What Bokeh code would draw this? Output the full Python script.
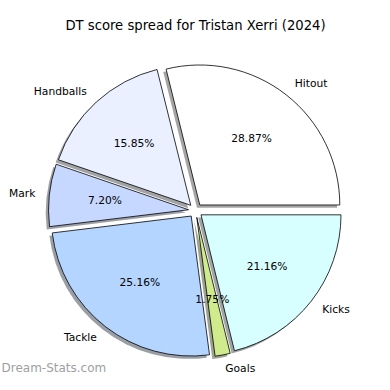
import math
from bokeh.plotting import figure
from bokeh.models import Range1d, ColumnDataSource
from bokeh.core.properties import value
from bokeh.embed import file_html
from bokeh.resources import INLINE

# ---- data ----
labels = ["Hitout", "Handballs", "Mark", "Tackle", "Goals", "Kicks"]
values = [28.87, 15.85, 7.20, 25.16, 1.75, 21.16]
colors = ["#ffffff", "#eaf0ff", "#c6d8ff", "#b4d5ff", "#d0eb8c", "#d8ffff"]
title = "DT score spread for Tristan Xerri (2024)"
watermark = "Dream-Stats.com"

explode = 0.05
radius = 1.0
scale = 140.0  # px per data unit
W = H = 374
cx_px, cy_px = 195.0, 210.0  # pie center in figure pixels

p = figure(width=W, height=H, output_backend="svg", toolbar_location=None,
           x_range=Range1d(-cx_px / scale, (W - cx_px) / scale),
           y_range=Range1d(-(H - cy_px) / scale, cy_px / scale),
           min_border=0)
p.axis.visible = False
p.grid.visible = False
p.outline_line_color = None
p.background_fill_color = "white"

total = sum(values)
starts, ends, xs, ys, mids = [], [], [], [], []
acc = 0.0
for v in values:
    a0 = 2 * math.pi * acc / total
    acc += v
    a1 = 2 * math.pi * acc / total
    m = (a0 + a1) / 2
    starts.append(a0); ends.append(a1); mids.append(m)
    xs.append(explode * math.cos(m)); ys.append(explode * math.sin(m))

def shade(c):
    r, g, b = int(c[1:3], 16), int(c[3:5], 16), int(c[5:7], 16)
    return "#%02x%02x%02x" % (int(r * 0.3), int(g * 0.3), int(b * 0.3))

src = ColumnDataSource(dict(
    x=xs, y=ys, sx=[x - 0.02 for x in xs], sy=[y - 0.02 for y in ys],
    start=starts, end=ends, color=colors, shadow=[shade(c) for c in colors]))

p.wedge(x="sx", y="sy", radius=radius, start_angle="start", end_angle="end",
        fill_color="shadow", fill_alpha=0.5, line_color=None, source=src)
p.wedge(x="x", y="y", radius=radius, start_angle="start", end_angle="end",
        fill_color="color", line_color="black", line_width=0.8, source=src)

# labels
lx, ly, la, px_, py_, pt = [], [], [], [], [], []
for i, m in enumerate(mids):
    lx.append(xs[i] + 1.1 * radius * math.cos(m))
    ly.append(ys[i] + 1.1 * radius * math.sin(m))
    la.append("left" if lx[-1] > 0 else "right")
    px_.append(xs[i] + 0.6 * radius * math.cos(m))
    py_.append(ys[i] + 0.6 * radius * math.sin(m))
    pt.append("%.2f%%" % values[i])

p.text(x=lx, y=ly, text=labels, text_align=la, text_baseline="middle",
       text_font=value("DejaVu Sans"), text_font_size="10.7px", text_color="black")
p.text(x=px_, y=py_, text=pt, text_align="center", text_baseline="middle",
       text_font=value("DejaVu Sans"), text_font_size="10.7px", text_color="black")

p.text(x=[0], y=[(cy_px - 25) / scale], text=[title], text_align="center",
       text_baseline="middle", text_font=value("DejaVu Sans"), text_font_size="13.2px",
       text_color="black")
p.text(x=[-cx_px / scale + 1 / scale], y=[-(H - cy_px - 7) / scale], text=[watermark],
       text_align="left", text_baseline="middle", text_font=value("DejaVu Sans"),
       text_font_size="12px", text_color="#a0a0a0")

open("out.html", "w").write(file_html(p, INLINE))
